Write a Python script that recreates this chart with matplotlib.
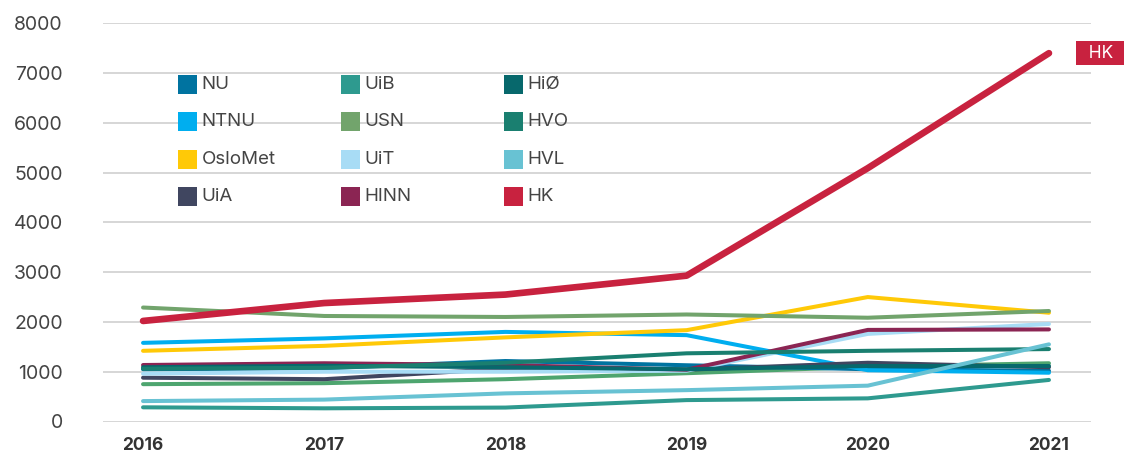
import matplotlib
matplotlib.use('Agg')
import matplotlib.pyplot as plt
from matplotlib.patches import Rectangle

plt.rcParams['font.family'] = ['Inter', 'DejaVu Sans']

years = [2016, 2017, 2018, 2019, 2020, 2021]

# values
NU = [1050, 1070, 1215, 1130, 1050, 1020]
NTNU = [1580, 1670, 1800, 1735, 1030, 980]
OsloMet = [1420, 1520, 1690, 1835, 2500, 2185]
UiA = [880, 850, 1060, 1040, 1180, 1090]
UiB = [285, 265, 280, 430, 465, 835]
USN = [2290, 2120, 2100, 2150, 2085, 2220]
UiT = [960, 1000, 1000, 1020, 1760, 1960]
HINN = [1135, 1170, 1135, 1040, 1840, 1850]
HiO = [1090, 1120, 1090, 1050, 1115, 1115]
HVO = [1060, 1080, 1180, 1370, 1420, 1455]
HVL = [410, 440, 565, 630, 720, 1550]
HK = [2020, 2380, 2550, 2930, 5090, 7400]
unlabeled = [750, 770, 850, 970, 1100, 1170]  # green line with no legend entry

series = [
    ('NU', NU, '#0073a0'),
    ('NTNU', NTNU, '#00aeef'),
    ('OsloMet', OsloMet, '#ffc907'),
    ('UiA', UiA, '#404660'),
    ('UiB', UiB, '#2e9a8f'),
    ('USN', USN, '#72a46c'),
    ('UiT', UiT, '#a8dcf5'),
    ('HINN', HINN, '#8b2553'),
    ('HiØ', HiO, '#07686c'),
    ('HVO', HVO, '#1a7f70'),
    ('HVL', HVL, '#68c2d3'),
    ('HK', HK, '#c8223f'),
]

W, H = 1124, 455
fig = plt.figure(figsize=(W / 100, H / 100), dpi=100)
ax = fig.add_axes([103 / W, 1 - 421.5 / H, (1091 - 103) / W, (421.5 - 23.3) / H])

ax.set_ylim(0, 8000)
ax.set_xlim(2015.779, 2021.232)
ax.set_yticks(range(0, 8001, 1000))
ax.set_xticks(years)
ax.grid(axis='y', color='#cccccc', linewidth=1.1)
ax.set_axisbelow(True)
for s in ax.spines.values():
    s.set_visible(False)
ax.tick_params(axis='y', length=0, pad=29, labelsize=14, labelcolor='#444444')
ax.tick_params(axis='x', length=0, pad=11, labelsize=12.5, labelcolor='#333333')
for lbl in ax.get_xticklabels():
    lbl.set_fontweight('bold')

# draw order: thin lines first, HK on top
ax.plot(years, unlabeled, color='#4ea56f', lw=2.9, solid_capstyle='round', zorder=2)
for name, vals, col in series:
    if name == 'HK':
        continue
    ax.plot(years, vals, color=col, lw=2.9, solid_capstyle='round', zorder=2)
ax.plot(years, HK, color='#c8223f', lw=4.8, solid_capstyle='round', zorder=3)

ax.annotate('  HK  ', xy=(years[-1], HK[-1]), xytext=(30.5, 0), textcoords='offset pixels',
            ha='left', va='center', fontsize=12.5, color='white', annotation_clip=False,
            bbox=dict(boxstyle='square,pad=0.2', facecolor='#c8223f', edgecolor='none'))

# legend, 3 columns x 4 rows
col_x = [178, 341, 504]
row_y = [84.3, 121.7, 159.3, 196.7]
sq = 18.5
for i, (name, vals, col) in enumerate(series):
    cx = col_x[i // 4]
    cy = row_y[i % 4]
    fig.patches.append(Rectangle((cx / W, 1 - (cy + sq / 2) / H), sq / W, sq / H,
                                 transform=fig.transFigure, facecolor=col,
                                 edgecolor='none'))
    fig.text((cx + sq + 5) / W, 1 - cy / H, name, ha='left', va='center',
             fontsize=13.5, color='#444444')

fig.savefig('out.png', dpi=100)
